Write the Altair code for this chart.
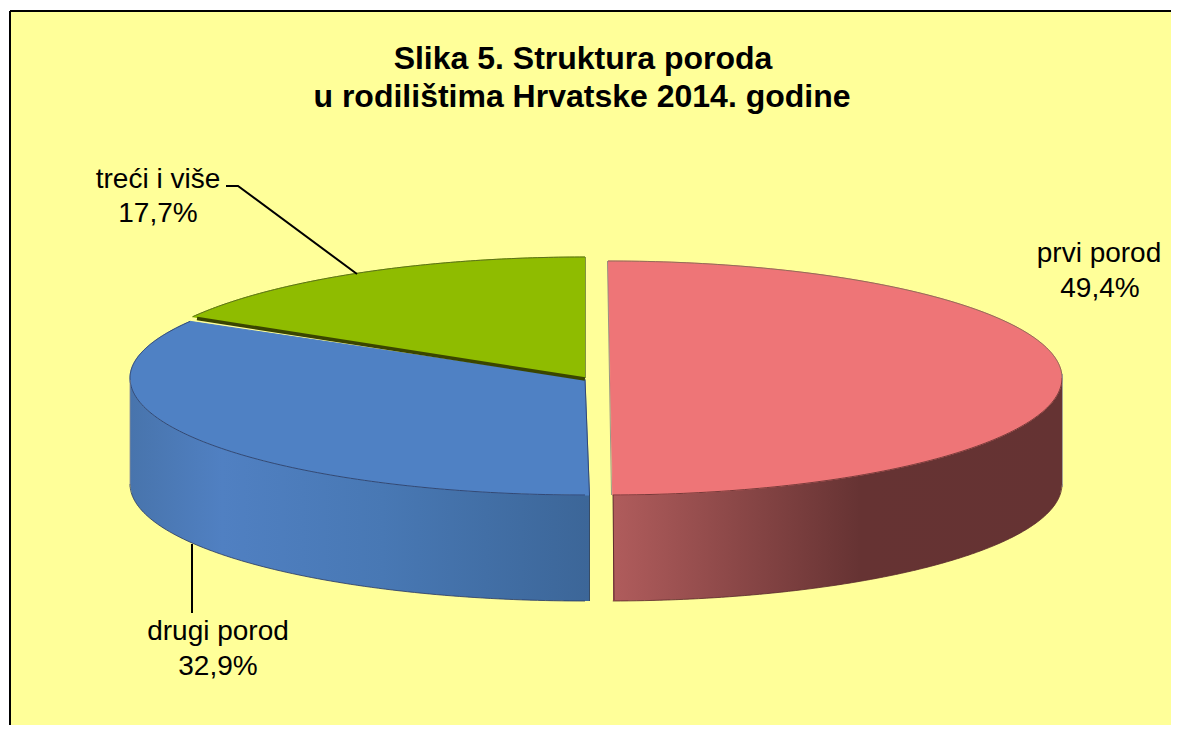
import math
import altair as alt
import pandas as pd

# Values
categories = ["prvi porod", "drugi porod", "treći i više"]
shares = [49.4, 32.9, 17.7]
share_labels = ["49,4%", "32,9%", "17,7%"]
title_lines = ["Slika 5. Struktura poroda", "u rodilištima  Hrvatske 2014. godine"]

YELLOW = "#FFFF99"
RED, BLUE, GREEN = "#EE7577", "#4F81C4", "#8FBC00"
FONT = "Liberation Sans"

# Projection of the disc
CX_R, CX_L, CY = 608, 585, 378
A_R, A_L = 454, 455
B_R, B_G, B_BT, B_B = 117, 121, 114, 117
WALL = 106
SQUEEZE = 0.935  # foreshortening of the slice angle on the far rim
RIGHT, BOTTOM = 1171, 725


def rim(cx, cy, a, b_top, b_bot, deg_from, deg_to, n=90):
    pts = []
    for i in range(n + 1):
        d = deg_from + (deg_to - deg_from) * i / n
        t = math.radians(d)
        c = math.cos(t)
        b = b_top if c > 0 else b_bot
        pts.append((cx + a * math.sin(t), cy - b * c))
    return pts


def poly(name, color, pts):
    return [{"g": name, "c": color, "i": i, "x": p[0], "y": p[1]} for i, p in enumerate(pts)]


green_deg = 360 * shares[2] / 100 * SQUEEZE
blue_start = 360 * shares[2] / 100 * 0.945

red_pts = rim(CX_R, CY, A_R, B_R, B_R, 0, 179.4)
green_pts = [(CX_L, CY)] + rim(CX_L, CY, A_L, B_G, B_G, 0, -green_deg)
blue_pts = [(CX_L, CY + 2)] + rim(CX_L, CY, A_L, B_BT, B_B, -blue_start, -180) + [(589.5, 495)]

faces = pd.DataFrame(poly("red", RED, red_pts) + poly("blue", BLUE, blue_pts) + poly("green", GREEN, green_pts))

x_scale = alt.Scale(domain=[8, RIGHT], range=[0, RIGHT - 8])
y_scale = alt.Scale(domain=[8, BOTTOM], range=[0, BOTTOM - 8])
X = alt.X("x:Q", scale=x_scale, axis=None)
Y = alt.Y("y:Q", scale=y_scale, axis=None)
Y2 = alt.Y2("y2:Q")


def wall(cx, a, b, x0, x1, n=240):
    rows = []
    for i in range(n + 1):
        x = x0 + (x1 - x0) * i / n
        u = min(1, abs(x - cx) / a)
        y = CY + b * math.sqrt(1 - u * u)
        rows.append({"x": x, "y": y, "y2": y + WALL})
    return pd.DataFrame(rows)


def grad(stops):
    return alt.Gradient(
        gradient="linear", x1=0, x2=1, y1=0, y2=0,
        stops=[alt.GradientStop(offset=o, color=c) for o, c in stops],
    )


panel = alt.Chart(pd.DataFrame([{"x": 10, "x2": RIGHT, "y": 11, "y2": BOTTOM}])).mark_rect(
    fill=YELLOW
).encode(X, alt.X2("x2:Q"), Y, Y2)
border = alt.Chart(pd.DataFrame(
    poly("l", "#000000", [(10, BOTTOM), (10, 11)]) + poly("t", "#000000", [(10, 11), (RIGHT, 11)])
)).mark_line(strokeWidth=2, color="#000000").encode(X, Y, detail="g:N", order=alt.Order("i:Q"))

red_wall = alt.Chart(wall(CX_R, A_R, B_R, 613, 1062)).mark_area(
    color=grad([(0, "#B05C5C"), (0.55, "#663333"), (1, "#653333")])
).encode(X, Y, Y2)
blue_wall = alt.Chart(wall(CX_L, A_L, B_B, 130, 589.5)).mark_area(
    color=grad([(0, "#4874AC"), (0.2, "#5080C2"), (0.55, "#4878B4"), (1, "#3C6698")])
).encode(X, Y, Y2)

face_layers = []
for name, color in [("red", RED), ("blue", BLUE), ("green", GREEN)]:
    face_layers.append(
        alt.Chart(faces[faces.g == name]).mark_line(
            fill=color, stroke=color, strokeWidth=1, interpolate="linear-closed"
        ).encode(X, Y, order=alt.Order("i:Q"))
    )

edges = pd.DataFrame(poly("e1", "#3A4500", [(197, 318.5), (585, 379)]))
dark_edge = alt.Chart(edges).mark_line(strokeWidth=3.5).encode(
    X, Y, detail="g:N", order=alt.Order("i:Q"), color=alt.Color("c:N", scale=None)
)

rim_rows = (
    poly("r1", "#2A3A60", rim(CX_L, CY, A_L, B_BT, B_B, -blue_start, -90))
    + poly("r3", "#2A3A60", [(p[0], p[1] + WALL) for p in rim(CX_L, CY, A_L, B_B, B_B, -90, -180)])
    + poly("r4", "#2A3A60", rim(CX_L, CY, A_L, B_B, B_B, -90, -180))
    + poly("r5", "#5A2A2A", rim(CX_R, CY, A_R, B_R, B_R, 90, 179.4))
    + poly("r6", "#5A2A2A", [(p[0], p[1] + WALL) for p in rim(CX_R, CY, A_R, B_R, B_R, 90, 179.4)])
    + poly("r7", "#7A6A50", rim(CX_R, CY, A_R, B_R, B_R, 0, 90))
    + poly("r8", "#4F5E20", rim(CX_L, CY, A_L, B_G, B_G, 0, -green_deg))
    + poly("r9", "#708040", [(585.5, 257), (585.5, 378)])
    + poly("r10", "#808080", [(607.5, 261), (611.5, 495)])
    + poly("r11", "#1E3258", [(589.5, 495), (589.5, 601)])
    + poly("r12", "#4A2222", [(613, 495), (614, 600)])
    + poly("r13", "#909090", [(1062.5, 374), (1062.5, 487)])
    + poly("r14", "#909090", [(130, 380), (130, 487)])
    + poly("r15", "#2A3A60", [(585, 379), (589.5, 495)])
)
rims = alt.Chart(pd.DataFrame(rim_rows)).mark_line(strokeWidth=1, opacity=0.8).encode(
    X, Y, detail="g:N", order=alt.Order("i:Q"), color=alt.Color("c:N", scale=None)
)

leaders = pd.DataFrame(
    poly("a", "#000000", [(226, 186), (238, 186), (357, 274)])
    + poly("b", "#000000", [(192, 544), (192, 613)])
)
leader = alt.Chart(leaders).mark_line(strokeWidth=2, color="#000000").encode(
    X, Y, detail="g:N", order=alt.Order("i:Q")
)

titles = pd.DataFrame({"t": title_lines, "x": [583, 582], "y": [69, 107]})
title = alt.Chart(titles).mark_text(
    font=FONT, fontSize=32, fontWeight="bold", color="#000000", align="center", baseline="alphabetic"
).encode(X, Y, text="t:N")

labels = pd.DataFrame({
    "t": [categories[0], share_labels[0], categories[1], share_labels[1], categories[2], share_labels[2]],
    "x": [1099, 1100, 218, 218, 158, 158],
    "y": [262, 297, 640, 675, 188, 222],
})
label = alt.Chart(labels).mark_text(
    font=FONT, fontSize=28, color="#000000", align="center", baseline="alphabetic"
).encode(X, Y, text="t:N")

chart = alt.layer(
    panel, border, red_wall, blue_wall, *face_layers, dark_edge, rims, leader, title, label
).properties(
    width=RIGHT - 8, height=BOTTOM - 8, padding=0, background="#FFFFFF",
    autosize=alt.AutoSizeParams(type="none"),
).configure_view(stroke=None)

chart.save("out.html", embed_options={"renderer": "svg", "actions": False})
